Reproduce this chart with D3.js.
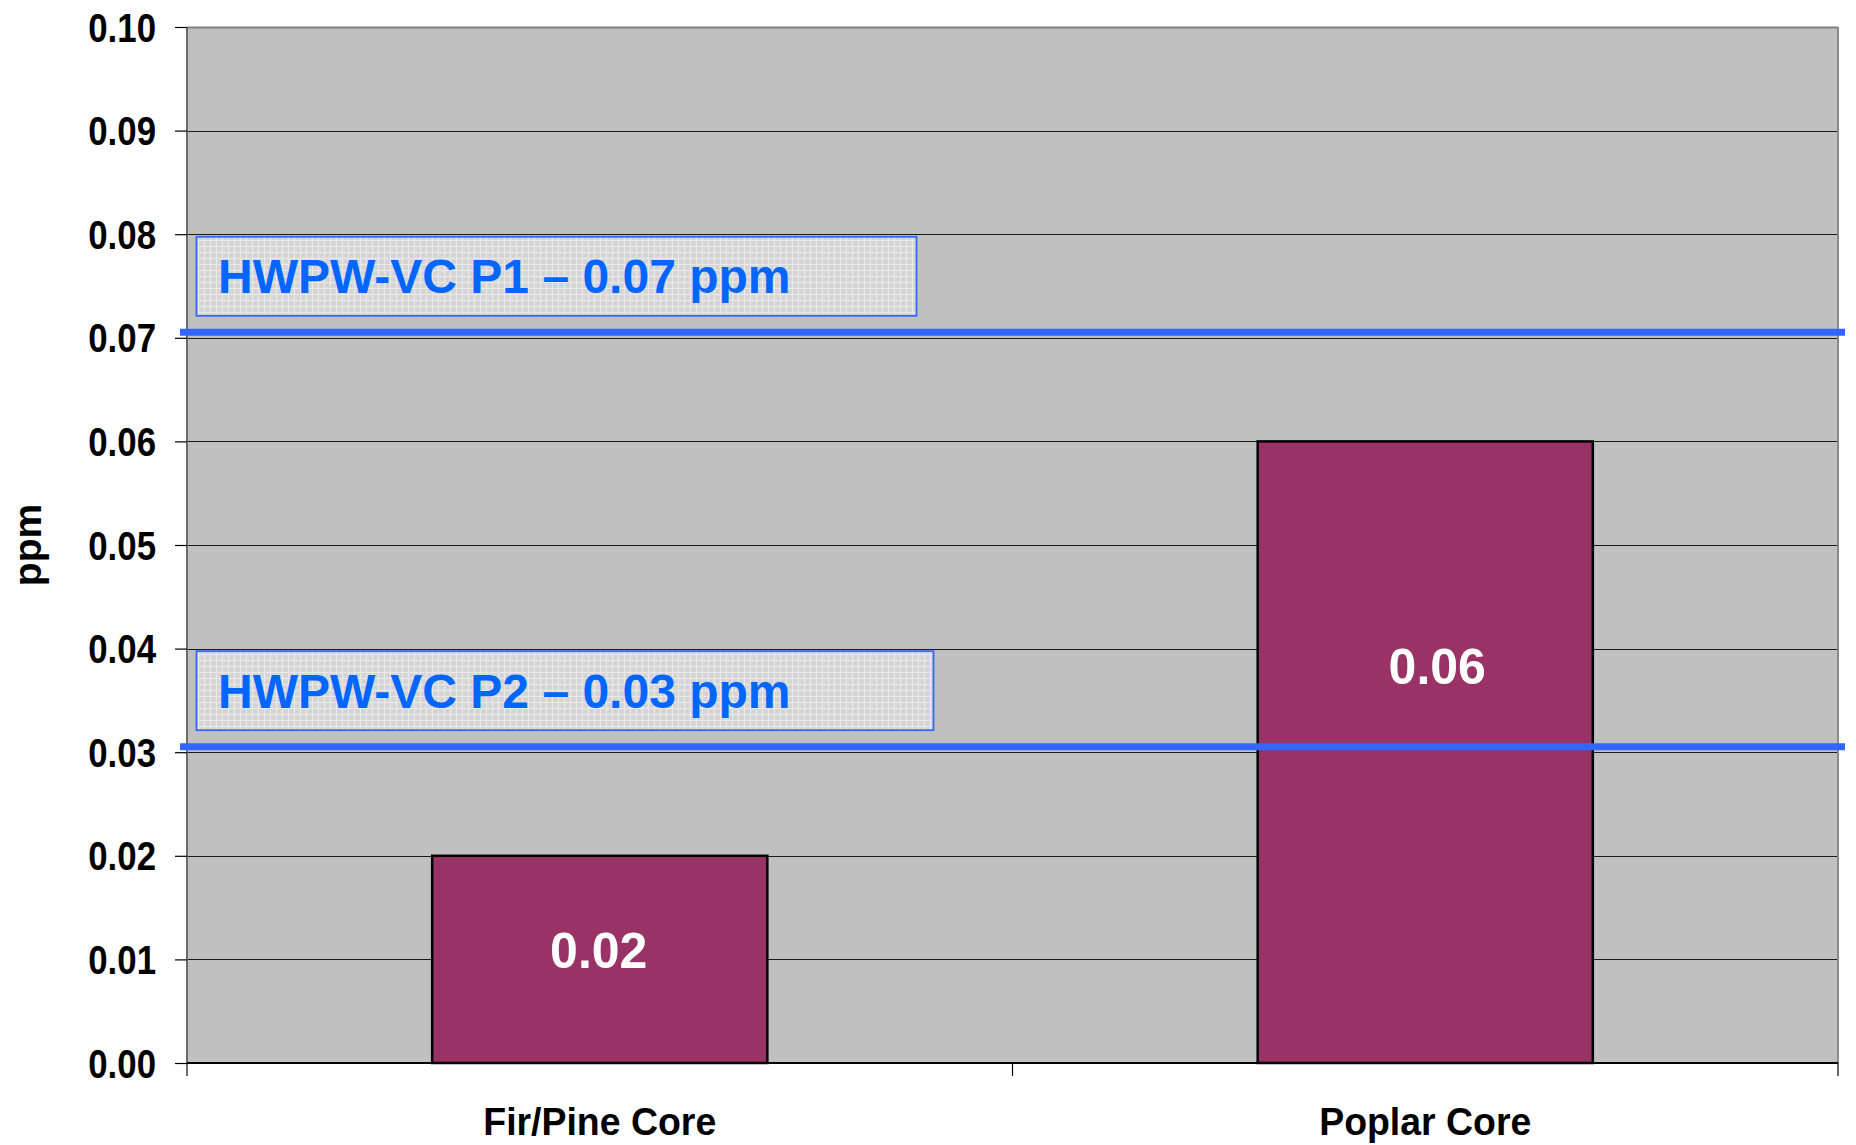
<!DOCTYPE html>
<html>
<head>
<meta charset="utf-8">
<script src="https://cdn.jsdelivr.net/npm/d3@7"></script>
<style>
  html, body { margin: 0; padding: 0; background: #ffffff; }
  svg { display: block; font-family: "Liberation Sans", Arial, sans-serif; font-weight: bold; }
</style>
</head>
<body>
<svg id="chart" width="1856" height="1145"></svg>
<script>
// Core samples and measured concentration (ppm)
const categories = ["Fir/Pine Core", "Poplar Core"];
const values = [0.02, 0.06];
const valueLabels = ["0.02", "0.06"];

// Y axis ticks
const yTicks = [0, 0.01, 0.02, 0.03, 0.04, 0.05, 0.06, 0.07, 0.08, 0.09, 0.10];
const yTickLabels = ["0.00", "0.01", "0.02", "0.03", "0.04", "0.05", "0.06", "0.07", "0.08", "0.09", "0.10"];

// Reference limits
const limitNames = ["HWPW-VC P1 \u2013 0.07 ppm", "HWPW-VC P2 \u2013 0.03 ppm"];
const limitValues = [0.07, 0.03];

const svg = d3.select("#chart");
const plotL = 187, plotR = 1838, plotT = 27, plotB = 1063;

const x = d3.scaleBand().domain(categories).range([plotL, plotR]).paddingInner(0.594).paddingOuter(0.297);
const y = d3.scaleLinear().domain([0, 0.10]).range([plotB, plotT]);

// fill pattern for the limit label boxes
const defs = svg.append("defs");
const pat = defs.append("pattern").attr("id", "boxfill")
  .attr("width", 6).attr("height", 6).attr("patternUnits", "userSpaceOnUse");
pat.append("rect").attr("width", 6).attr("height", 6).attr("fill", "#d6d6d6");
pat.append("rect").attr("x", 0).attr("y", 0).attr("width", 6).attr("height", 1).attr("fill", "#e9e9e9");
pat.append("rect").attr("x", 0).attr("y", 0).attr("width", 1).attr("height", 6).attr("fill", "#e9e9e9");
pat.append("rect").attr("x", 3).attr("y", 3).attr("width", 1).attr("height", 1).attr("fill", "#c8c8c8");

// plot background
svg.append("rect").attr("x", plotL).attr("y", plotT).attr("width", plotR - plotL).attr("height", plotB - plotT)
  .attr("fill", "#c0c0c0");

// horizontal gridlines
svg.append("g").selectAll("line").data(yTicks.slice(1)).join("line")
  .attr("x1", plotL).attr("x2", plotR)
  .attr("y1", d => Math.round(y(d)) + 0.5).attr("y2", d => Math.round(y(d)) + 0.5)
  .attr("stroke", "#1a1a1a").attr("stroke-width", 1);

// plot frame: top, right, left in gray
svg.append("line").attr("x1", plotL).attr("x2", plotR).attr("y1", plotT + 0.5).attr("y2", plotT + 0.5)
  .attr("stroke", "#808080").attr("stroke-width", 2);
svg.append("line").attr("x1", plotR).attr("x2", plotR).attr("y1", plotT).attr("y2", plotB)
  .attr("stroke", "#8a8a8a").attr("stroke-width", 2);
svg.append("line").attr("x1", plotL).attr("x2", plotL).attr("y1", plotT).attr("y2", plotB + 13)
  .attr("stroke", "#6b6b6b").attr("stroke-width", 2);

// Y axis
const yAxis = d3.axisLeft(y).tickValues(yTicks).tickSize(12).tickPadding(0)
  .tickFormat((d, i) => yTickLabels[i]);
const gy = svg.append("g").attr("transform", `translate(${plotL},0)`).call(yAxis);
gy.select(".domain").remove();
gy.selectAll(".tick line").attr("stroke", "#000").attr("stroke-width", 1.2);
gy.selectAll(".tick text")
  .attr("font-family", "'Liberation Sans', Arial, sans-serif")
  .attr("font-weight", "bold").attr("font-size", 40).attr("fill", "#000")
  .attr("x", 0).attr("dy", "0.35em")
  .attr("transform", "translate(-31,0) scale(0.87,1)");

// X axis
const xAxisScale = d3.scaleLinear().domain([0, categories.length]).range([plotL, plotR]);
svg.append("line").attr("x1", plotL).attr("x2", plotR).attr("y1", plotB).attr("y2", plotB)
  .attr("stroke", "#000").attr("stroke-width", 2);
svg.append("g").selectAll("line").data(d3.range(1, categories.length + 1)).join("line")
  .attr("x1", d => xAxisScale(d)).attr("x2", d => xAxisScale(d))
  .attr("y1", plotB).attr("y2", plotB + 13)
  .attr("stroke", "#000").attr("stroke-width", 1.2);
svg.append("g").selectAll("text").data(categories).join("text")
  .attr("x", d => x(d) + x.bandwidth() / 2).attr("y", 1135)
  .attr("text-anchor", "middle").attr("font-size", 39).attr("fill", "#000")
  .attr("transform", d => { const cx = x(d) + x.bandwidth() / 2; return `translate(${cx * 0.04},0) scale(0.96,1)`; })
  .text(d => d);

// Y axis title
svg.append("text")
  .attr("transform", `translate(41,${(plotT + plotB) / 2}) rotate(-90)`)
  .attr("text-anchor", "middle").attr("font-size", 39).attr("fill", "#000")
  .text("ppm");

// bars
svg.append("g").selectAll("rect").data(values).join("rect")
  .attr("x", (d, i) => x(categories[i]))
  .attr("y", d => y(d))
  .attr("width", x.bandwidth())
  .attr("height", d => y(0) - y(d))
  .attr("fill", "#993366").attr("stroke", "#000").attr("stroke-width", 2.5);

// reference limit lines
svg.append("g").selectAll("line").data(limitValues).join("line")
  .attr("x1", 180).attr("x2", 1845)
  .attr("y1", d => y(d) - 5.5).attr("y2", d => y(d) - 5.5)
  .attr("stroke", "#3366ff").attr("stroke-width", 7);

// limit label boxes
const boxWidths = [720, 737];
const boxes = svg.append("g").selectAll("g").data(limitValues).join("g");
boxes.append("rect")
  .attr("x", 196.5).attr("y", d => y(d) - 22 - 79)
  .attr("width", (d, i) => boxWidths[i]).attr("height", 79)
  .attr("fill", "url(#boxfill)").attr("stroke", "#3366ff").attr("stroke-width", 1.8);
boxes.append("text")
  .attr("x", 218).attr("y", d => y(d) - 22 - 79 / 2 + 17)
  .attr("font-size", 48).attr("fill", "#0066ff")
  .text((d, i) => limitNames[i]);

// value labels inside the bars
const labelFrac = [0.545, 0.638];
const labelShift = [-1, 12];
svg.append("g").selectAll("text").data(values).join("text")
  .attr("x", (d, i) => x(categories[i]) + x.bandwidth() / 2 + labelShift[i])
  .attr("y", (d, i) => y(d * labelFrac[i]))
  .attr("dy", "0.36em")
  .attr("text-anchor", "middle").attr("font-size", 50).attr("fill", "#ffffff")
  .text((d, i) => valueLabels[i]);
</script>
</body>
</html>
